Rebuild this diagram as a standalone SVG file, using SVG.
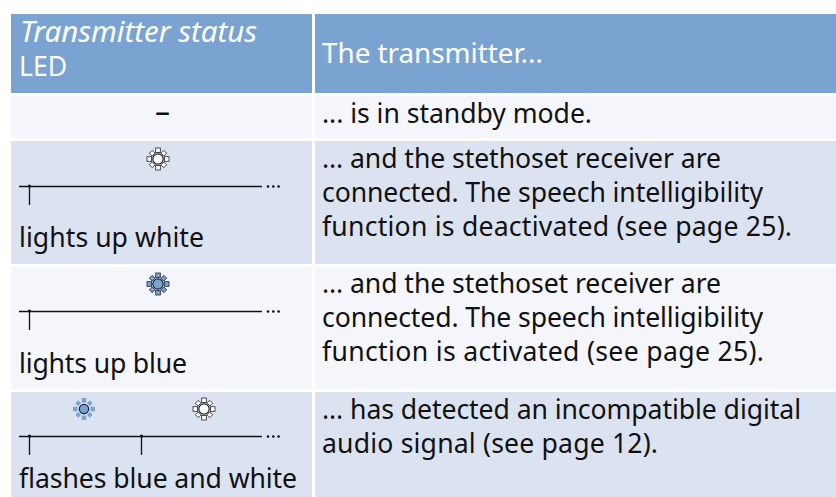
<svg xmlns="http://www.w3.org/2000/svg" width="836" height="497" viewBox="0 0 836 497">
<style>
text{font-family:"Noto Sans","Open Sans",sans-serif;font-size:26.600px;fill:#111}
.h{fill:#fff}
.i{font-style:italic;font-size:29.500px}
.t{font-size:27.800px}
.hd{fill:#7ba3d2}
.lt{fill:#f4f6fb}
.dk{fill:#dce3f0}
.ln{stroke:#111;stroke-width:1.3;fill:none}
.w{fill:#fff;stroke:#222;stroke-width:.8}
.b{fill:#7ba3d2;stroke:#223;stroke-width:.8}
.bs{fill:#7ba3d2}
.bc{fill:#7ba3d2;stroke:#1a2230;stroke-width:1.2}
.wc{fill:#fff;stroke:#222;stroke-width:1.2}
.dot{fill:#111}
</style>
<defs>
<g id="rays"><rect x="-2.300" y="-11" width="4.600" height="4.600"/><rect x="-2.300" y="6.400" width="4.600" height="4.600"/><rect x="-11" y="-2.300" width="4.600" height="4.600"/><rect x="6.400" y="-2.300" width="4.600" height="4.600"/><rect x="-2" y="-10.200" width="4" height="4" transform="rotate(45)"/><rect x="-2" y="6.200" width="4" height="4" transform="rotate(45)"/><rect x="-10.200" y="-2" width="4" height="4" transform="rotate(45)"/><rect x="6.200" y="-2" width="4" height="4" transform="rotate(45)"/></g>
<g id="sun-w"><use href="#rays" class="w"/><circle r="5.200" class="wc"/></g>
<g id="sun-b"><use href="#rays" class="b"/><circle r="5.200" class="bc"/></g>
<g id="sun-f"><use href="#rays" class="bs"/><circle r="4.600" class="bc"/></g>
<g id="dots"><circle cx="0" r="1.300" class="dot"/><circle cx="5.300" r="1.300" class="dot"/><circle cx="10.600" r="1.300" class="dot"/></g>
</defs>
<g id="table">
<rect class="hd" x="11" y="14" width="301" height="79"/><rect class="hd" x="315" y="14" width="521" height="79"/>
<rect class="lt" x="11" y="96" width="301" height="42"/><rect class="lt" x="315" y="96" width="521" height="42"/>
<rect class="dk" x="11" y="141" width="301" height="123"/><rect class="dk" x="315" y="141" width="521" height="123"/>
<rect class="lt" x="11" y="267" width="301" height="122"/><rect class="lt" x="315" y="267" width="521" height="122"/>
<rect class="dk" x="11" y="392" width="301" height="105"/><rect class="dk" x="315" y="392" width="521" height="105"/>
</g>
<g id="header-status"><text class="h i" x="20" y="42">Transmitter status</text><text class="h" x="19" y="76">LED</text></g>
<g id="header-transmitter"><text class="h t" x="322" y="63">The transmitter...</text></g>
<g id="row-standby"><text x="155" y="122" style="font-size:30px">–</text><text x="322" y="123" textLength="270">... is in standby mode.</text></g>
<g id="row-white">
<use href="#sun-w" x="158" y="159"/>
<path class="ln" d="M19 186.500H262M29.500 186V205"/><circle cx="29.500" cy="186" r="1.600" class="dot"/><use href="#dots" x="268" y="186.500"/>
<text x="19" y="247" textLength="185">lights up white</text>
<text x="322" y="168" textLength="399">... and the stethoset receiver are</text><text x="322" y="202" textLength="441">connected. The speech intelligibility</text><text x="322" y="236" textLength="470">function is deactivated (see page 25).</text>
</g>
<g id="row-blue">
<use href="#sun-b" x="158" y="284"/>
<path class="ln" d="M19 311.500H262M29.500 311V330"/><circle cx="29.500" cy="311" r="1.600" class="dot"/><use href="#dots" x="268" y="311.500"/>
<text x="19" y="373" textLength="168">lights up blue</text>
<text x="322" y="293" textLength="399">... and the stethoset receiver are</text><text x="322" y="327" textLength="441">connected. The speech intelligibility</text><text x="322" y="361" textLength="442">function is activated (see page 25).</text>
</g>
<g id="row-flash">
<use href="#sun-f" x="84" y="409"/><use href="#sun-w" x="204" y="409"/>
<path class="ln" d="M19 436.500H262M29.500 436V455M141.500 436V455"/><circle cx="29.500" cy="436" r="1.600" class="dot"/><circle cx="141.500" cy="436" r="1.600" class="dot"/><use href="#dots" x="268" y="436.500"/>
<text x="19" y="488" textLength="278">flashes blue and white</text>
<text x="322" y="419" textLength="479">... has detected an incompatible digital</text><text x="322" y="453" textLength="336">audio signal (see page 12).</text>
</g>
</svg>
